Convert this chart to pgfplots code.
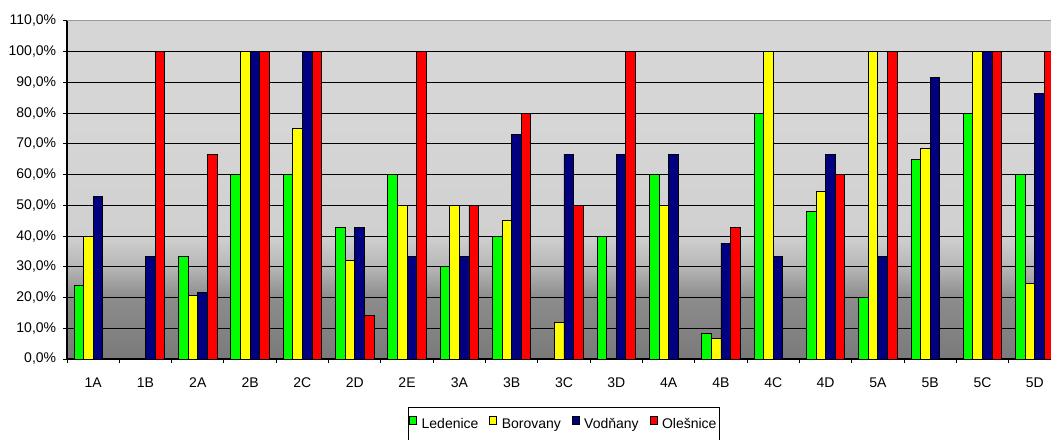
\documentclass[border=0pt]{standalone}
\usepackage{fontspec}
\setmainfont{Liberation Sans}
\usepackage{pgfplots}
\pgfplotsset{compat=1.18}

\definecolor{cLed}{HTML}{00FF00}
\definecolor{cBor}{HTML}{FFFF00}
\definecolor{cVod}{HTML}{000080}
\definecolor{cOle}{HTML}{FF0000}
\definecolor{bg0}{HTML}{7A7A7A}
\definecolor{bg20}{HTML}{8C8C8C}
\definecolor{bg30}{HTML}{B6B6B6}
\definecolor{bg40}{HTML}{D0D0D0}
\definecolor{bgtop}{HTML}{D6D6D6}

% 0% -> 25bp, 110% -> 75bp
\pgfdeclareverticalshading{bgshade}{100bp}{%
  color(0bp)=(bg0); color(25bp)=(bg0); color(34.1bp)=(bg20);
  color(38.6bp)=(bg30); color(43.2bp)=(bg40); color(60bp)=(bgtop);
  color(100bp)=(bgtop)}

\begin{document}
\fontsize{14}{16}\selectfont
\begin{tikzpicture}
  \begin{axis}[
      at={(67pt,80pt)}, anchor=south west,
      scale only axis,
      width=984pt, height=338pt,
      xmin=-0.5, xmax=18.31,
      ymin=0, ymax=110,
      ybar=0pt, bar width=9.6pt,
      axis lines*=left,
      axis line style={black, line width=1.2pt},
      axis background/.style={shade, shading=bgshade},
      xtick={0,...,18},
      xticklabels={1A,1B,2A,2B,2C,2D,2E,3A,3B,3C,3D,4A,4B,4C,4D,5A,5B,5C,5D},
      major x tick style={draw=none},
      minor xtick={-0.5,0.5,...,18.5},
      minor tick length=4pt,
      major tick length=4pt,
      tick align=outside,
      tick style={black, line width=1pt},
      ytick={0,10,...,100},
      extra y ticks={110},
      extra y tick style={grid style={gray!80, line width=1pt}},
      ymajorgrids,
      grid style={black, line width=1pt},
      /pgf/number format/assume math mode=true,
      yticklabel={\pgfmathprintnumber[fixed,fixed zerofill,precision=1,use comma]{\tick}\%},
      ticklabel style={font=\fontsize{14}{16}\selectfont},
      xticklabel style={yshift=-10pt},
      yticklabel style={xshift=-2pt},
      clip=true,
      legend columns=4,
      legend style={at={(0.505,-0.141)}, anchor=north, draw=black, line width=0.8pt,
        font=\fontsize{14}{16}\selectfont, inner xsep=1pt, inner ysep=9pt,
        /tikz/every even column/.append style={column sep=9pt},
        /tikz/every odd column/.append style={column sep=2.5pt}},
      legend image code/.code={\draw[#1, line width=0.8pt] (0pt,0pt) rectangle (7pt,8pt);},
      every axis plot/.append style={draw=black, line width=0.8pt},
    ]
    \addplot[fill=cLed] coordinates {
      (0,23.8) (2,33.3) (3,60) (4,60) (5,42.9) (6,60) (7,30) (8,40)
      (10,40) (11,60) (12,8.3) (13,80) (14,48) (15,20) (16,65) (17,80) (18,60)};
    \addplot[fill=cBor] coordinates {
      (0,40) (2,20.8) (3,100) (4,75) (5,32) (6,50) (7,50) (8,45) (9,12)
      (11,50) (12,6.7) (13,100) (14,54.5) (15,100) (16,68.4) (17,100) (18,24.7)};
    \addplot[fill=cVod] coordinates {
      (0,53) (1,33.3) (2,21.7) (3,100) (4,100) (5,42.9) (6,33.3) (7,33.3)
      (8,73) (9,66.7) (10,66.7) (11,66.7) (12,37.7) (13,33.3) (14,66.7)
      (15,33.3) (16,91.7) (17,100) (18,86.5)};
    \addplot[fill=cOle] coordinates {
      (1,100) (2,66.7) (3,100) (4,100) (5,14.3) (6,100) (7,50) (8,80) (9,50)
      (10,100) (12,42.9) (14,60) (15,100) (17,100) (18,100)};
    \legend{Ledenice, Borovany, Vodňany, Olešnice}
  \end{axis}
  \pgfresetboundingbox
  \useasboundingbox (0,0) rectangle (1051pt,439pt);
\end{tikzpicture}
\end{document}
